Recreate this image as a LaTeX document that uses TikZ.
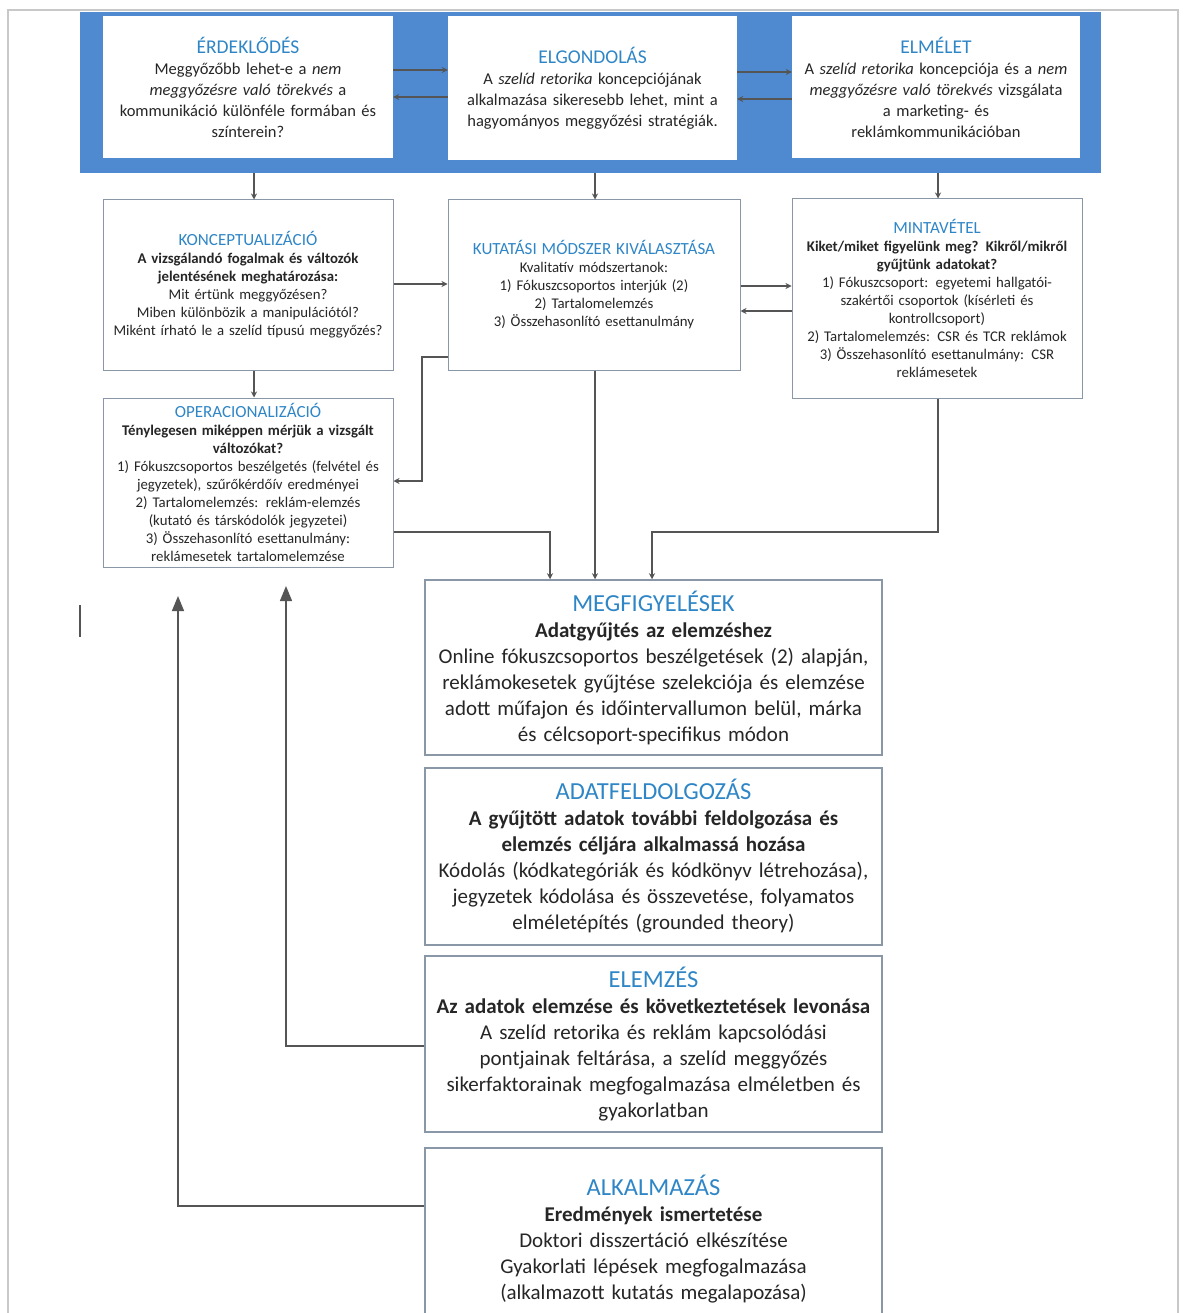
\documentclass[tikz,border=0pt]{standalone}
\usepackage{fontspec}
\setmainfont{Carlito}
\usetikzlibrary{arrows.meta,calc}

\definecolor{band}{HTML}{4F8AD0}
\definecolor{ttl}{HTML}{2F86C6}
\definecolor{txt}{HTML}{262626}
\definecolor{boxgray}{HTML}{8A97A6}
\definecolor{arrgray}{HTML}{555555}
\definecolor{frame}{HTML}{C8C8C8}

\newcommand\hdtop[1]{{\color{ttl}\fontsize{19.5}{21}\selectfont #1}}
\newcommand\hdmid[1]{{\color{ttl}\fontsize{17}{18}\selectfont #1}}
\newcommand\hdbig[1]{{\color{ttl}\fontsize{24.5}{26}\selectfont #1}}

\tikzset{
  topbox/.style={fill=white, align=center, inner sep=0pt, text=txt,
    font=\fontsize{16.5}{21}\selectfont},
  midbox/.style={draw=boxgray, line width=1pt, fill=white, align=center,
    inner sep=0pt, text=txt, font=\fontsize{14.8}{18}\selectfont},
  bigbox/.style={draw=boxgray, line width=1.5pt, fill=white, align=center,
    inner sep=0pt, text=txt, font=\fontsize{21}{26}\selectfont,
    minimum width=457pt, text width=452pt},
  arr/.style={draw=arrgray, line width=1.3pt, -{Stealth[length=6pt,width=6pt]}},
  backarr/.style={draw=arrgray, line width=1.3pt, -{Triangle[length=15pt,width=12pt]}},
}

\begin{document}
\begin{tikzpicture}[x=1pt,y=-1pt]
\useasboundingbox (0,0) rectangle (1185,1313);
\clip (0,0) rectangle (1185,1313);
\fill[white] (0,0) rectangle (1185,1313);

% page frame
\draw[frame, line width=1.5pt] (8,1320) -- (8,10) -- (1178,10) -- (1178,1320);

% blue band behind the first row
\node[fill=band, inner sep=0pt, minimum width=1021pt, minimum height=161pt] (band) at (590.5,92.5) {};

% first row
\node[topbox, minimum width=290pt, minimum height=142pt, text width=286pt] (erd) at (248,87)
 {\hdtop{ÉRDEKLŐDÉS}\\
  Meggyőzőbb lehet-e a \textit{nem}\\
  \textit{meggyőzésre való törekvés} a\\
  kommunikáció különféle formában és\\
  színterein?};
\node[topbox, minimum width=289pt, minimum height=144pt, text width=285pt] (elg) at (592.5,88)
 {\hdtop{ELGONDOLÁS}\\
  A \textit{szelíd retorika} koncepciójának\\
  alkalmazása sikeresebb lehet, mint a\\
  hagyományos meggyőzési stratégiák.};
\node[topbox, minimum width=288pt, minimum height=142pt, text width=286pt] (elm) at (936,87)
 {\hdtop{ELMÉLET}\\
  A \textit{szelíd retorika} koncepciója és a \textit{nem}\\
  \textit{meggyőzésre való törekvés} vizsgálata\\
  a marketing- és\\
  reklámkommunikációban};

% second row
\node[midbox, minimum width=290pt, minimum height=170pt, text width=288pt] (konc) at (248,285)
 {\hdmid{KONCEPTUALIZÁCIÓ}\\
  {\bfseries A vizsgálandó fogalmak és változók}\\
  {\bfseries jelentésének meghatározása:}\\
  Mit értünk meggyőzésen?\\
  Miben különbözik a manipulációtól?\\
  Miként írható le a szelíd típusú meggyőzés?};
\node[midbox, minimum width=292pt, minimum height=170pt, text width=290pt] (kut) at (594,285)
 {\hdmid{KUTATÁSI MÓDSZER KIVÁLASZTÁSA}\\
  Kvalitatív módszertanok:\\
  1) Fókuszcsoportos interjúk (2)\\
  2) Tartalomelemzés\\
  3) Összehasonlító esettanulmány};
\node[midbox, minimum width=290pt, minimum height=199pt, text width=288pt] (minta) at (937,298.5)
 {\hdmid{MINTAVÉTEL}\\
  {\bfseries Kiket/miket figyelünk meg? Kikről/mikről}\\
  {\bfseries gyűjtünk adatokat?}\\
  1) Fókuszcsoport: egyetemi hallgatói-\\
  szakértői csoportok (kísérleti és\\
  kontrollcsoport)\\
  2) Tartalomelemzés: CSR és TCR reklámok\\
  3) Összehasonlító esettanulmány: CSR\\
  reklámesetek};
\node[midbox, minimum width=290pt, minimum height=169pt, text width=288pt] (oper) at (248,482.5)
 {\hdmid{OPERACIONALIZÁCIÓ}\\
  {\bfseries Ténylegesen miképpen mérjük a vizsgált}\\
  {\bfseries változókat?}\\
  1) Fókuszcsoportos beszélgetés (felvétel és\\
  jegyzetek), szűrőkérdőív eredményei\\
  2) Tartalomelemzés: reklám-elemzés\\
  (kutató és társkódolók jegyzetei)\\
  3) Összehasonlító esettanulmány:\\
  reklámesetek tartalomelemzése};

% lower column
\node[bigbox, minimum height=175pt] (megf) at (653.5,667.5)
 {\hdbig{MEGFIGYELÉSEK}\\
  {\bfseries Adatgyűjtés az elemzéshez}\\
  Online fókuszcsoportos beszélgetések (2) alapján,\\
  reklámokesetek gyűjtése szelekciója és elemzése\\
  adott műfajon és időintervallumon belül, márka\\
  és célcsoport-specifikus módon};
\node[bigbox, minimum height=177pt] (adat) at (653.5,856.5)
 {\hdbig{ADATFELDOLGOZÁS}\\
  {\bfseries A gyűjtött adatok további feldolgozása és}\\
  {\bfseries elemzés céljára alkalmassá hozása}\\
  Kódolás (kódkategóriák és kódkönyv létrehozása),\\
  jegyzetek kódolása és összevetése, folyamatos\\
  elméletépítés (grounded theory)};
\node[bigbox, minimum height=176pt] (elem) at (653.5,1044)
 {\hdbig{ELEMZÉS}\\
  {\bfseries Az adatok elemzése és következtetések levonása}\\
  A szelíd retorika és reklám kapcsolódási\\
  pontjainak feltárása, a szelíd meggyőzés\\
  sikerfaktorainak megfogalmazása elméletben és\\
  gyakorlatban};
\node[bigbox, minimum height=200pt] (alk) at (653.5,1248)
 {\hdbig{ALKALMAZÁS}\\
  {\bfseries Eredmények ismertetése}\\
  Doktori disszertáció elkészítése\\
  Gyakorlati lépések megfogalmazása\\
  (alkalmazott kutatás megalapozása)\\[-4pt]
  \mbox{}};

% arrows inside the band
\draw[arr] (erd.east |- 0,70) -- (elg.west |- 0,70);
\draw[arr] (elg.west |- 0,97) -- (erd.east |- 0,97);
\draw[arr] (elg.east |- 0,72) -- (elm.west |- 0,72);
\draw[arr] (elm.west |- 0,99) -- (elg.east |- 0,99);

% band down to the second row
\draw[arr] (band.south -| 254,0) -- (konc.north -| 254,0);
\draw[arr] (band.south -| 595,0) -- (kut.north -| 595,0);
\draw[arr] (band.south -| 938,0) -- (minta.north -| 938,0);

% second row links
\draw[arr] (konc.east |- 0,284) -- (kut.west |- 0,284);
\draw[arr] (kut.east |- 0,286) -- (minta.west |- 0,286);
\draw[arr] (minta.west |- 0,311) -- (kut.east |- 0,311);
\draw[arr] (konc.south -| 254,0) -- (oper.north -| 254,0);
\draw[arr] (kut.west |- 0,357) -- (422,357) -- (422,481) -- (oper.east |- 0,481);

% into the observation box
\draw[arr] (oper.east |- 0,532) -- (550,532) -- (megf.north -| 550,0);
\draw[arr] (kut.south -| 595,0) -- (megf.north -| 595,0);
\draw[arr] (minta.south -| 938,0) -- (938,532) -- (652,532) -- (megf.north -| 652,0);

% feedback loops
\coordinate (fb1) at (286,586);
\coordinate (fb2) at (178,596);
\draw[backarr] (elem.west |- 0,1046) -- (fb1 |- 0,1046) -- (fb1);
\draw[backarr] (alk.west |- 0,1206) -- (fb2 |- 0,1206) -- (fb2);

% text cursor mark
\draw[arrgray, line width=1.5pt] (80,605) -- (80,637);
\end{tikzpicture}
\end{document}
